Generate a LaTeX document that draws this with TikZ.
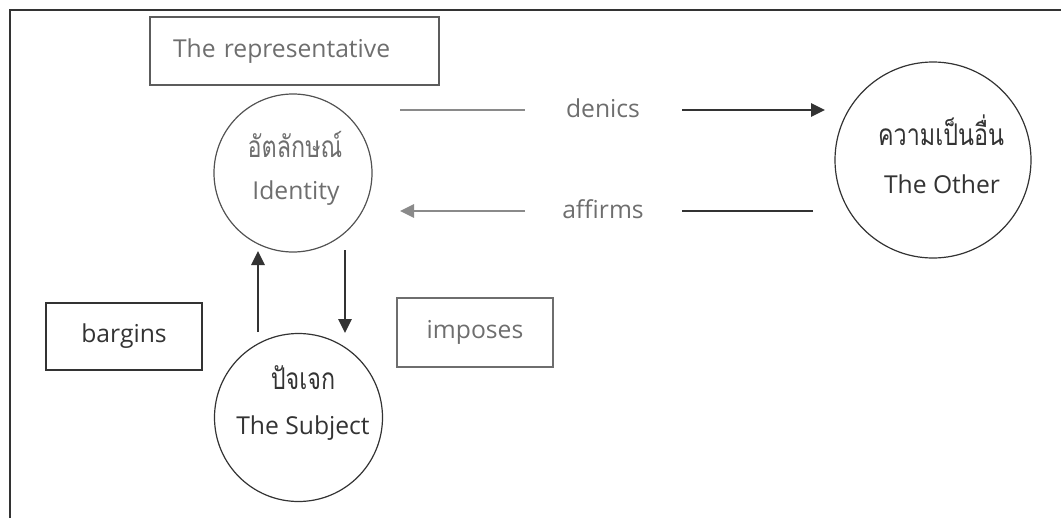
\documentclass[tikz,border=0pt]{standalone}
\usepackage{fontspec}
\setmainfont{Open Sans}
\newfontfamily\thai[Script=Thai]{Loma}
\usetikzlibrary{arrows.meta}
\definecolor{ink}{HTML}{333333}
\definecolor{faded}{HTML}{6E6E6E}
\definecolor{fadedline}{HTML}{8A8A8A}
\newcommand{\tallthai}[1]{\scalebox{1}[1.28]{\thai #1}}
\tikzset{
  lbl/.style={font=\fontsize{18.5}{22}\selectfont, text=ink, inner sep=0pt},
  fadedlbl/.style={lbl, text=faded},
  thailbl/.style={font=\fontsize{17.5}{21}\selectfont, text=ink, inner sep=0pt},
  fadedthai/.style={thailbl, text=faded},
  ring/.style={circle, draw=ink, line width=0.9pt, inner sep=0pt},
  boxed/.style={rectangle, draw=ink, line width=1.2pt, inner sep=0pt, font=\fontsize{18.5}{22}\selectfont, text=ink},
  conn/.style={line width=1.3pt, draw=ink},
  tip/.style={-{Triangle[length=10.5pt,width=10pt]}},
}
\begin{document}
\begin{tikzpicture}[x=0.75pt,y=-0.75pt]
\useasboundingbox (0,0) rectangle (1061,518);
% outer frame (cut by the page edges)
\coordinate (fbl) at (10,518);
\coordinate (ftl) at (10,10);
\coordinate (ftr) at (1061,10);
\draw[line width=1.5pt, draw=ink] (fbl) -- (ftl) -- (ftr);

% boxes
\node[boxed, draw=ink!80, text=faded, minimum width=216.75pt, minimum height=51pt,
      text width=182.25pt, inner xsep=17.25pt, align=left] (rep) at (294.5,51) {The representative};
\node[boxed, minimum width=117pt, minimum height=50.25pt] (barg) at (124,336.5) {bargins};
\node[boxed, draw=faded, text=faded, minimum width=117pt, minimum height=51.75pt] (imp) at (475,332.5) {imposes};

% circles
\node[ring, draw=ink!85, minimum size=118.5pt] (ident) at (293,173) {};
\node[ring, minimum size=147pt] (other) at (933,160) {};
\node[ring, minimum size=126pt] (subj) at (298.5,417.5) {};

% circle texts
\node[fadedthai] (identth) at (295,144) {\tallthai{อัตลักษณ์}};
\node[fadedlbl] (identen) at (296,193) {Identity};
\node[thailbl] (otherth) at (941,130) {\tallthai{ความเป็นอื่น}};
\node[lbl] (otheren) at (942,184) {The Other};
\node[thailbl] (subjth) at (303,378) {\tallthai{ปัจเจก}};
\node[lbl] (subjen) at (303,428) {The Subject};

% denics
\node[fadedlbl] (den) at (603,108) {denics};
\coordinate (denA) at (400,110);
\coordinate (denB) at (525,110);
\coordinate (denC) at (682,110);
\coordinate (denD) at (825,110);
\draw[conn, draw=fadedline] (denA) -- (denB);
\draw[conn, tip] (denC) -- (denD);

% affirms
\node[fadedlbl] (aff) at (603,209) {affirms};
\coordinate (affA) at (813,211);
\coordinate (affB) at (682,211);
\coordinate (affC) at (525,211);
\coordinate (affD) at (400,211);
\draw[conn] (affA) -- (affB);
\draw[conn, draw=fadedline, tip] (affC) -- (affD);

% vertical arrows
\coordinate (upA) at (258,332);
\coordinate (upB) at (258,251);
\coordinate (dnA) at (345,250);
\coordinate (dnB) at (345,333);
\draw[conn, tip] (upA) -- (upB);
\draw[conn, tip] (dnA) -- (dnB);
\end{tikzpicture}
\end{document}
